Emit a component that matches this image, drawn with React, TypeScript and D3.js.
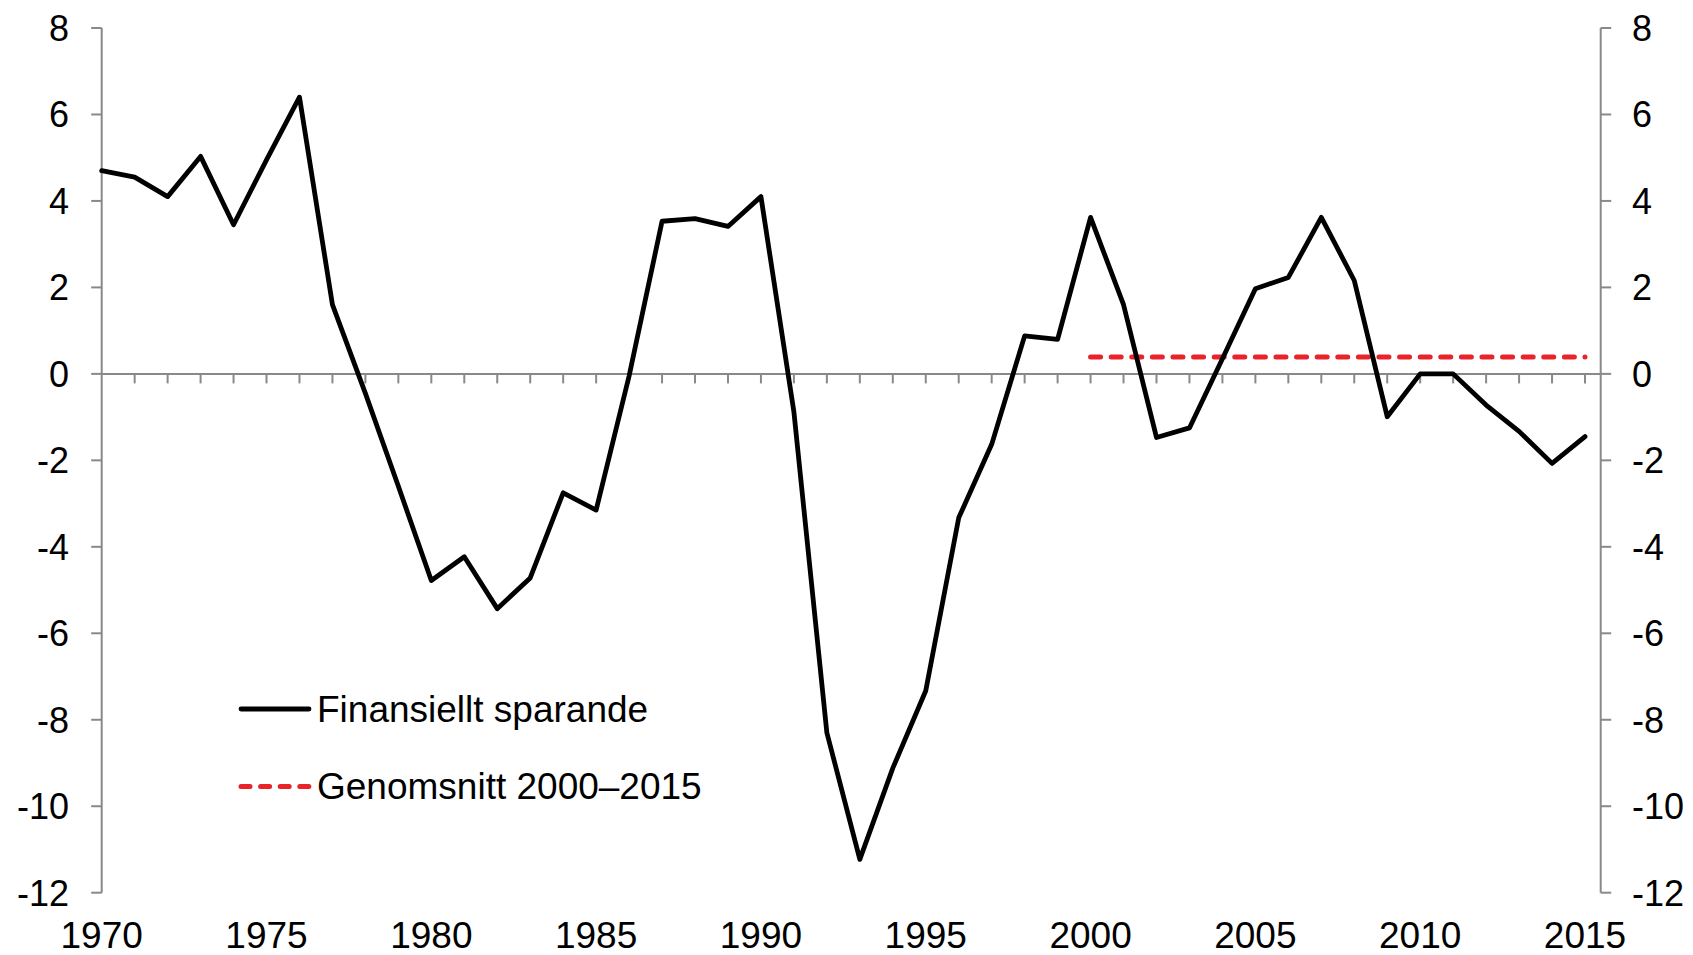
import React from "react";
import * as d3 from "d3";

const years: number[] = [
  1970, 1971, 1972, 1973, 1974, 1975, 1976, 1977, 1978, 1979,
  1980, 1981, 1982, 1983, 1984, 1985, 1986, 1987, 1988, 1989,
  1990, 1991, 1992, 1993, 1994, 1995, 1996, 1997, 1998, 1999,
  2000, 2001, 2002, 2003, 2004, 2005, 2006, 2007, 2008, 2009,
  2010, 2011, 2012, 2013, 2014, 2015,
];

const sparande: number[] = [
  4.7, 4.55, 4.1, 5.03, 3.45, 4.95, 6.4, 1.6, -0.45, -2.6,
  -4.78, -4.23, -5.43, -4.72, -2.75, -3.15, -0.05, 3.53, 3.59, 3.41,
  4.1, -0.88, -8.3, -11.23, -9.12, -7.33, -3.33, -1.63, 0.88, 0.8,
  3.62, 1.6, -1.47, -1.25, 0.35, 1.97, 2.23, 3.62, 2.16, -0.99,
  0.0, 0.0, -0.72, -1.33, -2.07, -1.45,
];

const avgYears: number[] = [2000, 2015];
const avgValue: number[] = [0.39, 0.39];

const yTicks: number[] = [8, 6, 4, 2, 0, -2, -4, -6, -8, -10, -12];
const xLabels: number[] = [1970, 1975, 1980, 1985, 1990, 1995, 2000, 2005, 2010, 2015];

const seriesNames: string[] = ["Finansiellt sparande", "Genomsnitt 2000\u20132015"];

const W = 1693;
const H = 955;
const FONT = "'Liberation Sans', Arial, sans-serif";
const AXIS = "#898989";
const RED = "#e8232a";

export default function App() {
  const leftX = 101.7;
  const rightX = 1600.7;
  const x = d3.scaleLinear().domain([1970, 2015]).range([leftX, 1585]);
  const y = d3.scaleLinear().domain([-12, 8]).range([892.7, 28]);

  const line = d3
    .line<number>()
    .x((_, i) => x(years[i]))
    .y((d) => y(d));

  const avgLine = d3
    .line<number>()
    .x((_, i) => x(avgYears[i]))
    .y((d) => y(d));

  const dash = "10 10.6";

  return (
    <svg
      width={W}
      height={H}
      style={{ position: "absolute", left: 0, top: 0, background: "#fff" }}
      fontFamily={FONT}
    >
      {/* zero line */}
      <line x1={leftX} x2={rightX} y1={y(0)} y2={y(0)} stroke={AXIS} strokeWidth={2} />
      {years.slice(1).map((yr) => (
        <line key={yr} x1={x(yr)} x2={x(yr)} y1={y(0)} y2={y(0) + 9.5} stroke={AXIS} strokeWidth={2} />
      ))}

      {/* left axis */}
      <line x1={leftX} x2={leftX} y1={y(8)} y2={y(-12)} stroke={AXIS} strokeWidth={2} />
      {yTicks.map((t) => (
        <g key={"l" + t}>
          <line x1={leftX - 10.5} x2={leftX} y1={y(t)} y2={y(t)} stroke={AXIS} strokeWidth={2} />
          <text x={69} y={y(t)} dy="0.36em" textAnchor="end" fontSize={36} fill="#000">
            {t}
          </text>
        </g>
      ))}

      {/* right axis */}
      <line x1={rightX} x2={rightX} y1={y(8)} y2={y(-12)} stroke={AXIS} strokeWidth={2} />
      {yTicks.map((t) => (
        <g key={"r" + t}>
          <line x1={rightX} x2={rightX + 10.5} y1={y(t)} y2={y(t)} stroke={AXIS} strokeWidth={2} />
          <text x={1632} y={y(t)} dy="0.36em" textAnchor="start" fontSize={36} fill="#000">
            {t}
          </text>
        </g>
      ))}

      {/* x labels */}
      {xLabels.map((yr) => (
        <text key={"x" + yr} x={x(yr)} y={948} textAnchor="middle" fontSize={37} fill="#000">
          {yr}
        </text>
      ))}

      {/* average */}
      <path
        d={avgLine(avgValue) || ""}
        fill="none"
        stroke={RED}
        strokeWidth={5}
        strokeDasharray={dash}
        strokeLinecap="round"
      />

      {/* series */}
      <path
        d={line(sparande) || ""}
        fill="none"
        stroke="#000"
        strokeWidth={4.8}
        strokeLinejoin="round"
        strokeLinecap="round"
      />

      {/* legend */}
      <line x1={241} x2={309} y1={709} y2={709} stroke="#000" strokeWidth={4.8} strokeLinecap="round" />
      <text x={317} y={721.5} fontSize={37} fill="#000">
        {seriesNames[0]}
      </text>
      <line
        x1={241}
        x2={309}
        y1={786.5}
        y2={786.5}
        stroke={RED}
        strokeWidth={5}
        strokeDasharray="9 10.6"
        strokeLinecap="round"
      />
      <text x={317} y={799} fontSize={37} fill="#000">
        {seriesNames[1]}
      </text>
    </svg>
  );
}
